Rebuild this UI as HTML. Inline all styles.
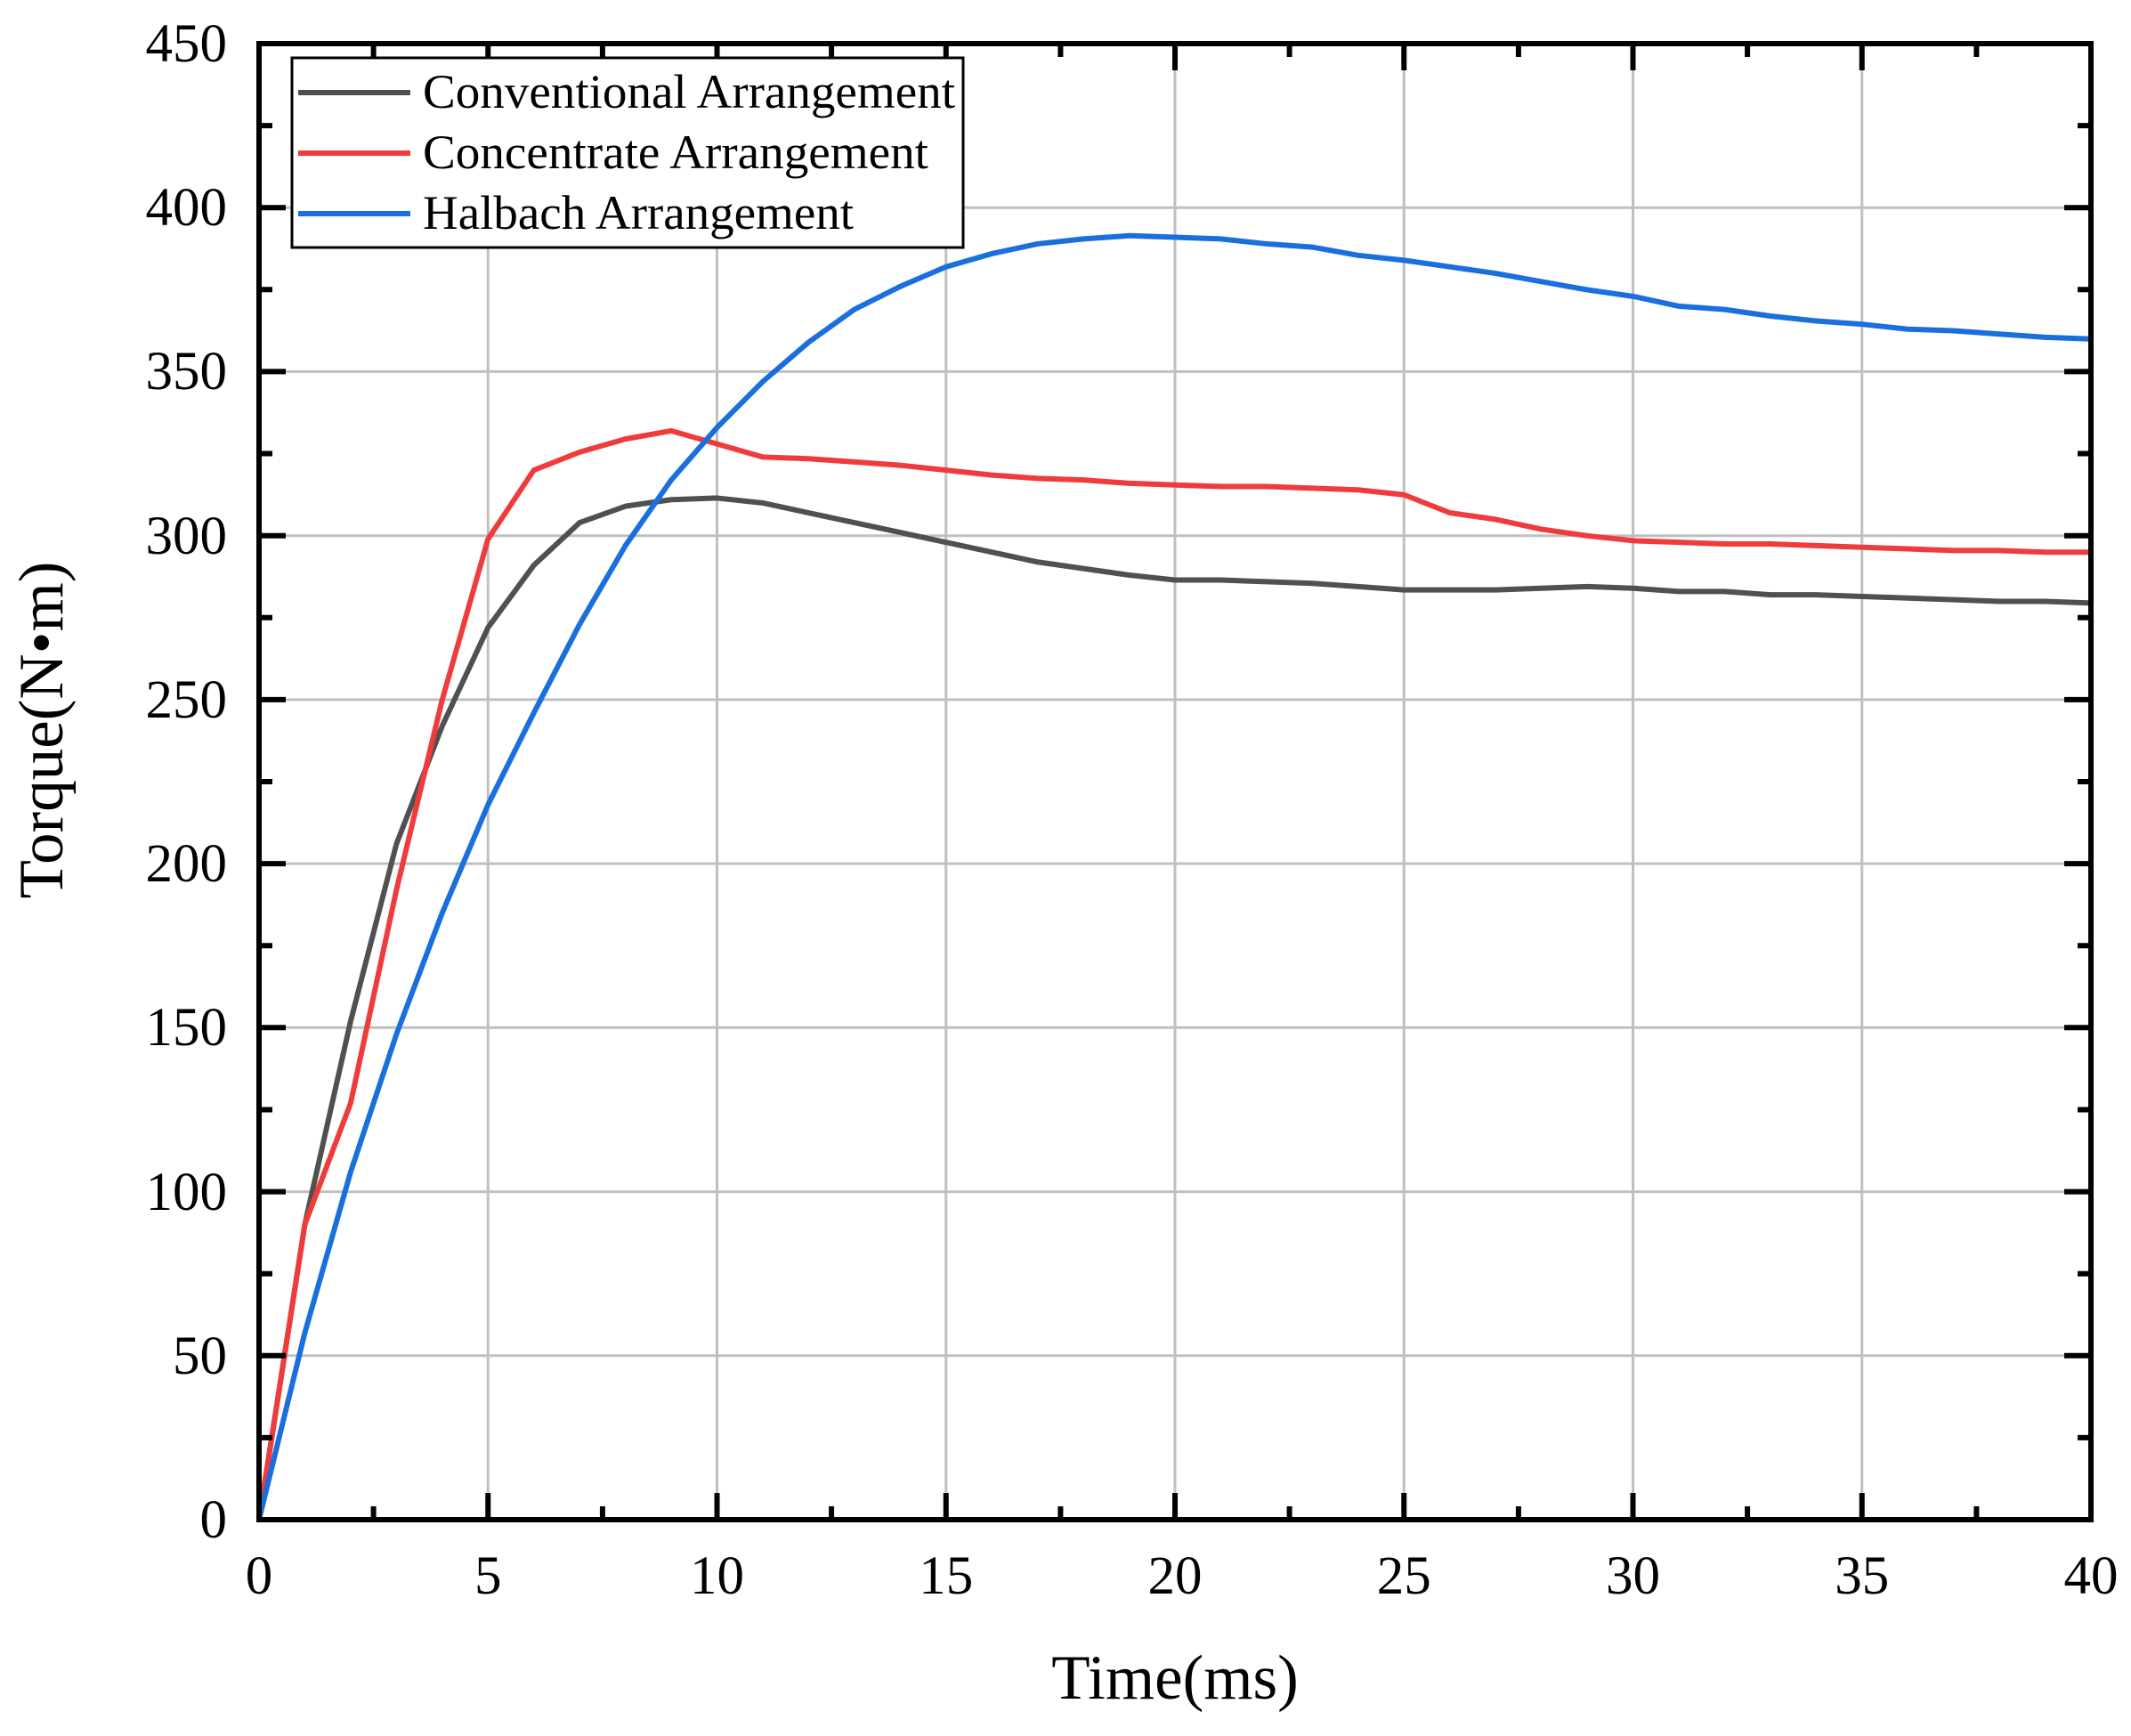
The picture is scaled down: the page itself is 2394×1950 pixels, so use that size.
<!DOCTYPE html>
<html><head><meta charset="utf-8"><style>html,body{margin:0;padding:0;background:#fff}</style></head>
<body>
<svg width="2394" height="1945" viewBox="0 0 2394 1945" xmlns="http://www.w3.org/2000/svg" font-family="Liberation Serif, serif">
<rect width="2394" height="1945" fill="#fff"/>
<g stroke="#c0c0c0" stroke-width="3">
<line x1="548.25" y1="49" x2="548.25" y2="1707"/><line x1="805.5" y1="49" x2="805.5" y2="1707"/>
<line x1="1062.75" y1="49" x2="1062.75" y2="1707"/><line x1="1320" y1="49" x2="1320" y2="1707"/>
<line x1="1577.25" y1="49" x2="1577.25" y2="1707"/><line x1="1834.5" y1="49" x2="1834.5" y2="1707"/>
<line x1="2091.75" y1="49" x2="2091.75" y2="1707"/>
<line x1="291" y1="1522.8" x2="2349" y2="1522.8"/><line x1="291" y1="1338.6" x2="2349" y2="1338.6"/>
<line x1="291" y1="1154.3" x2="2349" y2="1154.3"/><line x1="291" y1="970.1" x2="2349" y2="970.1"/>
<line x1="291" y1="785.9" x2="2349" y2="785.9"/><line x1="291" y1="601.7" x2="2349" y2="601.7"/>
<line x1="291" y1="417.4" x2="2349" y2="417.4"/><line x1="291" y1="233.2" x2="2349" y2="233.2"/>
</g>
<g transform="translate(291,1707) scale(51.45,-3.684)" fill="none" stroke-width="6" stroke-linejoin="round">
<polyline vector-effect="non-scaling-stroke" stroke="#505050" points="0,0 1,90 2,152 3,206 4,242 5,272 6,291 7,304 8,309 9,311 10,311.5 11,310 12,307 13,304 14,301 15,298 16,295 17,292 18,290 19,288 20,286.5 21,286.5 22,286 23,285.5 24,284.5 25,283.5 26,283.5 27,283.5 28,284 29,284.5 30,284 31,283 32,283 33,282 34,282 35,281.5 36,281 37,280.5 38,280 39,280 40,279.5"/>
<polyline vector-effect="non-scaling-stroke" stroke="#ef3b3b" points="0,0 1,90 2,127 3,192 4,250 5,299 6,320 7,325.5 8,329.5 9,332 10,328 11,324 12,323.5 13,322.5 14,321.5 15,320 16,318.5 17,317.5 18,317 19,316 20,315.5 21,315 22,315 23,314.5 24,314 25,312.5 26,307 27,305 28,302 29,300 30,298.5 31,298 32,297.5 33,297.5 34,297 35,296.5 36,296 37,295.5 38,295.5 39,295 40,295"/>
<polyline vector-effect="non-scaling-stroke" stroke="#1a6fdf" points="0,0 1,57 2,106 3,148 4,185 5,218 6,246 7,273 8,297 9,317 10,333 11,347 12,359 13,369 14,376 15,382 16,386 17,389 18,390.5 19,391.5 20,391 21,390.5 22,389 23,388 24,385.5 25,384 26,382 27,380 28,377.5 29,375 30,373 31,370 32,369 33,367 34,365.5 35,364.5 36,363 37,362.5 38,361.5 39,360.5 40,360"/>
</g>
<g stroke="#000" stroke-width="6">
<path d="M548.25,1707v-30M805.5,1707v-30M1062.75,1707v-30M1320,1707v-30M1577.25,1707v-30M1834.5,1707v-30M2091.75,1707v-30
M419.6,1707v-15M676.9,1707v-15M934.1,1707v-15M1191.4,1707v-15M1448.6,1707v-15M1705.9,1707v-15M1963.1,1707v-15M2220.4,1707v-15
M548.25,49v30M805.5,49v30M1062.75,49v30M1320,49v30M1577.25,49v30M1834.5,49v30M2091.75,49v30
M419.6,49v15M676.9,49v15M934.1,49v15M1191.4,49v15M1448.6,49v15M1705.9,49v15M1963.1,49v15M2220.4,49v15
M291,1522.8h30M291,1338.6h30M291,1154.3h30M291,970.1h30M291,785.9h30M291,601.7h30M291,417.4h30M291,233.2h30
M291,1614.9h15M291,1430.7h15M291,1246.5h15M291,1062.2h15M291,878h15M291,693.8h15M291,509.5h15M291,325.3h15M291,141.1h15
M2349,1522.8h-30M2349,1338.6h-30M2349,1154.3h-30M2349,970.1h-30M2349,785.9h-30M2349,601.7h-30M2349,417.4h-30M2349,233.2h-30
M2349,1614.9h-15M2349,1430.7h-15M2349,1246.5h-15M2349,1062.2h-15M2349,878h-15M2349,693.8h-15M2349,509.5h-15M2349,325.3h-15M2349,141.1h-15"/>
<rect x="291" y="49" width="2058" height="1658" fill="none"/>
</g>
<rect x="328" y="65" width="754" height="213" fill="#fff" stroke="#000" stroke-width="3"/>
<g stroke-width="6">
<line x1="335" y1="104" x2="461" y2="104" stroke="#505050"/>
<line x1="335" y1="172" x2="461" y2="172" stroke="#ef3b3b"/>
<line x1="335" y1="240" x2="461" y2="240" stroke="#1a6fdf"/>
</g>
<g font-size="54" fill="#000">
<text x="475" y="121" textLength="598" lengthAdjust="spacingAndGlyphs">Conventional Arrangement</text>
<text x="475" y="189" textLength="568" lengthAdjust="spacingAndGlyphs">Concentrate Arrangement</text>
<text x="475" y="257" textLength="484" lengthAdjust="spacingAndGlyphs">Halbach Arrangement</text>
</g>
<g font-size="61" fill="#000" text-anchor="middle">
<text x="291" y="1790">0</text><text x="548.25" y="1790">5</text><text x="805.5" y="1790">10</text>
<text x="1062.75" y="1790">15</text><text x="1320" y="1790">20</text><text x="1577.25" y="1790">25</text>
<text x="1834.5" y="1790">30</text><text x="2091.75" y="1790">35</text><text x="2349" y="1790">40</text>
</g>
<g font-size="61" fill="#000" text-anchor="end">
<text x="255" y="1727">0</text><text x="255" y="1543">50</text><text x="255" y="1359">100</text>
<text x="255" y="1174">150</text><text x="255" y="990">200</text><text x="255" y="806">250</text>
<text x="255" y="622">300</text><text x="255" y="437">350</text><text x="255" y="253">400</text>
<text x="255" y="69">450</text>
</g>
<text x="1320" y="1908" font-size="71" text-anchor="middle">Time(ms)</text>
<text transform="translate(70,820) rotate(-90)" font-size="71" text-anchor="middle">Torque(N•m)</text>
</svg>
</body></html>
